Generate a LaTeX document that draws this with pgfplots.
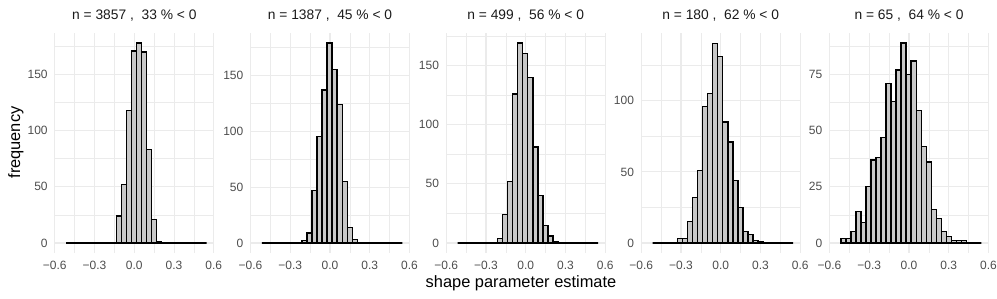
\documentclass[border=0pt]{standalone}
\usepackage{fontspec}
\setmainfont{Liberation Sans}
\usepackage{pgfplots}
\usepackage{pgfplotstable}
\pgfplotsset{compat=1.18}
\definecolor{grid92}{HTML}{EBEBEB}
\definecolor{tickcol}{HTML}{4D4D4D}
\definecolor{titlecol}{HTML}{1A1A1A}
\definecolor{barfill}{HTML}{C8C8C8}

\pgfplotstableread{
edge p1 p2 p3 p4 p5
-0.5140 0 0 0 0 2
-0.4761 0 0 0 0 2
-0.4383 0 0 0 0 5
-0.4004 0 0 0 0 14
-0.3626 0 0 0 0 9
-0.3247 0 0 0 3 25
-0.2868 0 0 0 3 37
-0.2490 0 0 0 15 38
-0.2111 0 2 4 32 47
-0.1733 0 9 24 51 71
-0.1354 24 47 52 96 63
-0.0975 52 95 126 105 77
-0.0597 118 137 169 140 89
-0.0218 171 179 160 131 75
0.0160 178 155 140 85 81
0.0539 170 124 81 71 59
0.0918 83 55 40 44 43
0.1296 21 14 15 25 36
0.1675 1 3 6 8 15
0.2053 0 0 1 6 11
0.2432 0 0 0 2 5
0.2811 0 0 0 1 3
0.3189 0 0 0 0 1
0.3568 0 0 0 0 1
0.3946 0 0 0 0 1
0.4325 0 0 0 0 0
0.4704 0 0 0 0 0
0.5082 0 0 0 0 0
0.5461 0 0 0 0 0
}\hist

\pgfplotsset{
  panel/.style={
    scale only axis, width=159pt, height=220pt,
    anchor=south west,
    xmin=-0.6, xmax=0.6,
    xtick={-0.6,-0.3,0,0.3,0.6},
    xticklabels={−0.6,−0.3,0.0,0.3,0.6},
    minor xtick={-0.45,-0.15,0.15,0.45},
    grid=both,
    major grid style={line width=1.1pt, draw=grid92},
    minor grid style={line width=0.55pt, draw=grid92},
    axis line style={draw=none},
    tick style={draw=none},
    ticklabel style={font=\fontsize{12}{14}\selectfont, text=tickcol},
    xticklabel style={anchor=base, inner sep=0pt, yshift=-17pt},
    yticklabel style={anchor=east, inner sep=0pt, xshift=-7pt},
    title style={at={(0.5,1)}, anchor=base, yshift=7pt, inner sep=0pt,
      font=\fontsize{13.8}{16}\selectfont, text=titlecol},
    axis on top=false,
  },
  bars/.style={ybar interval, fill=barfill, draw=black, line width=1.3pt},
}

\begin{document}
\begin{tikzpicture}[x=1pt,y=1pt]
\path (0,0) rectangle (997,299);

\begin{axis}[panel, at={(54.8pt,46pt)}, ymin=-8.9, ymax=186.9,
  ytick={0,50,100,150}, yticklabels={0,50,100,150},
  minor ytick={25,75,125,175},
  title={n = 3857 , \ 33 \% < 0}]
\addplot[bars] table[x=edge, y=p1] {\hist};
\end{axis}

\begin{axis}[panel, at={(250.5pt,46pt)}, ymin=-8.95, ymax=187.95,
  ytick={0,50,100,150}, yticklabels={0,50,100,150},
  minor ytick={25,75,125,175},
  title={n = 1387 , \ 45 \% < 0}]
\addplot[bars] table[x=edge, y=p2] {\hist};
\end{axis}

\begin{axis}[panel, at={(446.2pt,46pt)}, ymin=-8.45, ymax=177.45,
  ytick={0,50,100,150}, yticklabels={0,50,100,150},
  minor ytick={25,75,125,175},
  title={n = 499 , \ 56 \% < 0}]
\addplot[bars] table[x=edge, y=p3] {\hist};
\end{axis}

\begin{axis}[panel, at={(641.2pt,46pt)}, ymin=-7.03, ymax=147.63,
  ytick={0,50,100}, yticklabels={0,50,100},
  minor ytick={25,75,125},
  title={n = 180 , \ 62 \% < 0}]
\addplot[bars] table[x=edge, y=p4] {\hist};
\end{axis}

\begin{axis}[panel, at={(829.5pt,46pt)}, ymin=-4.45, ymax=93.45,
  ytick={0,25,50,75}, yticklabels={0,25,50,75},
  minor ytick={12.5,37.5,62.5,87.5},
  title={n = 65 , \ 64 \% < 0}]
\addplot[bars] table[x=edge, y=p5] {\hist};
\end{axis}

\node[rotate=90, anchor=base, inner sep=0pt, font=\fontsize{16.4}{19}\selectfont] at (20,156.5) {frequency};
\node[anchor=base, inner sep=0pt, font=\fontsize{16.4}{19}\selectfont] at (521,11) {shape parameter estimate};
\end{tikzpicture}
\end{document}
